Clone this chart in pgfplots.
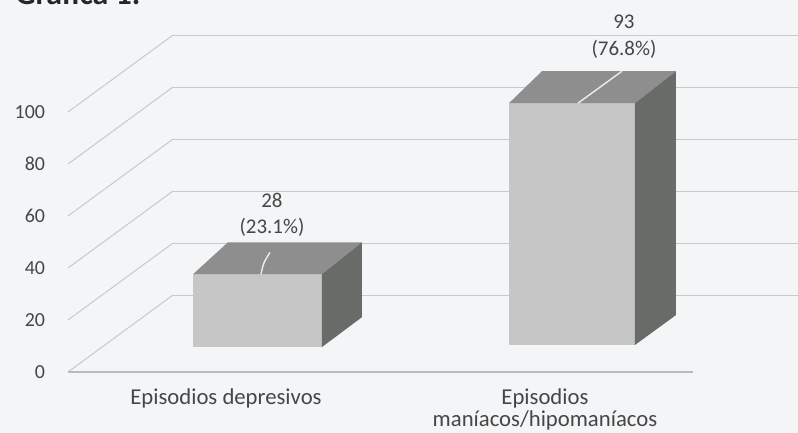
\documentclass[border=0pt]{standalone}
\usepackage{pgfplots}
\pgfplotsset{compat=1.18}
\usepackage{fontspec}
\setmainfont{Carlito}
\definecolor{bg}{RGB}{244,245,247}
\definecolor{gridc}{RGB}{200,201,203}
\definecolor{floorc}{RGB}{185,186,188}
\definecolor{frontc}{RGB}{198,198,198}
\definecolor{topc}{RGB}{142,142,142}
\definecolor{sidec}{RGB}{104,108,104}
\definecolor{txt}{RGB}{70,70,70}
\begin{document}
\begin{tikzpicture}
\useasboundingbox (0,0) rectangle (399bp,216.5bp);
\fill[bg] (0,0) rectangle (399bp,216.5bp);
\clip (0,0) rectangle (399bp,216.5bp);
\node[anchor=base west, inner sep=0, font=\bfseries\fontsize{16}{18}\selectfont, text=black!85] at (7.5bp,214bp) {Gráfica 1.};
\begin{axis}[
  at={(34bp,30.5bp)}, anchor=south west,
  x=0.5bp, y=1.3bp,
  xmin=68, xmax=798, ymin=0, ymax=143,
  clip=false,
  axis line style={draw=none},
  major tick length=0pt,
  ytick={0,20,40,60,80,100},
  xtick={226,545},
  xticklabels={Episodios depresivos, Episodios\\maníacos/hipomaníacos},
  xticklabel style={align=center, yshift=-5bp, font=\fontsize{11.4}{11}\selectfont, text=txt},
  yticklabel style={xshift=-8bp, font=\fontsize{10}{12}\selectfont, text=txt},
  /pgf/number format/assume math mode=true,
]
% left wall diagonals
\addplot[color=gridc, line width=0.5bp] coordinates {(68,0) (173,29.6)};
\addplot[color=gridc, line width=0.5bp] coordinates {(68,20) (173,49.6)};
\addplot[color=gridc, line width=0.5bp] coordinates {(68,40) (173,69.6)};
\addplot[color=gridc, line width=0.5bp] coordinates {(68,60) (173,89.6)};
\addplot[color=gridc, line width=0.5bp] coordinates {(68,80) (173,109.6)};
\addplot[color=gridc, line width=0.5bp] coordinates {(68,100) (173,129.6)};
% back wall gridlines
\addplot[color=gridc, line width=0.5bp] coordinates {(173,29.6) (798,29.6)};
\addplot[color=gridc, line width=0.5bp] coordinates {(173,49.6) (798,49.6)};
\addplot[color=gridc, line width=0.5bp] coordinates {(173,69.6) (798,69.6)};
\addplot[color=gridc, line width=0.5bp] coordinates {(173,89.6) (798,89.6)};
\addplot[color=gridc, line width=0.5bp] coordinates {(173,109.6) (798,109.6)};
\addplot[color=gridc, line width=0.5bp] coordinates {(173,129.6) (798,129.6)};
% floor front edge
\addplot[color=floorc, line width=0.6bp] coordinates {(68,0) (693,0)};
% bar 1: 28 (base 9.6)
\addplot[fill=frontc, draw=none] coordinates {(193,9.6) (322,9.6) (322,37.6) (193,37.6)};
\addplot[fill=topc, draw=none] coordinates {(193,37.6) (322,37.6) (362,49.9) (228,49.9)};
\addplot[fill=sidec, draw=none] coordinates {(322,9.6) (362,21.1) (362,49.9) (322,37.6)};
\addplot[color=white!85!gray, line width=0.7bp, smooth] coordinates {(261,37.6) (264,42) (270,46)};
% bar 2: 93 (base 10.4)
\addplot[fill=frontc, draw=none] coordinates {(509,10.4) (635,10.4) (635,103.4) (509,103.4)};
\addplot[fill=topc, draw=none] coordinates {(509,103.4) (635,103.4) (676,115.7) (542,115.7)};
\addplot[fill=sidec, draw=none] coordinates {(635,10.4) (676,21.9) (676,115.7) (635,103.4)};
\addplot[color=white!85!gray, line width=0.7bp] coordinates {(578,103.4) (622,115.7)};
% data labels
\node[align=center, text=txt, font=\fontsize{10.5}{13.3}\selectfont] at (axis cs:272,60.4) {28\\(23.1\%)};
\node[align=center, text=txt, font=\fontsize{10.5}{13.3}\selectfont] at (axis cs:624,129) {93\\(76.8\%)};
\end{axis}
\end{tikzpicture}
\end{document}
